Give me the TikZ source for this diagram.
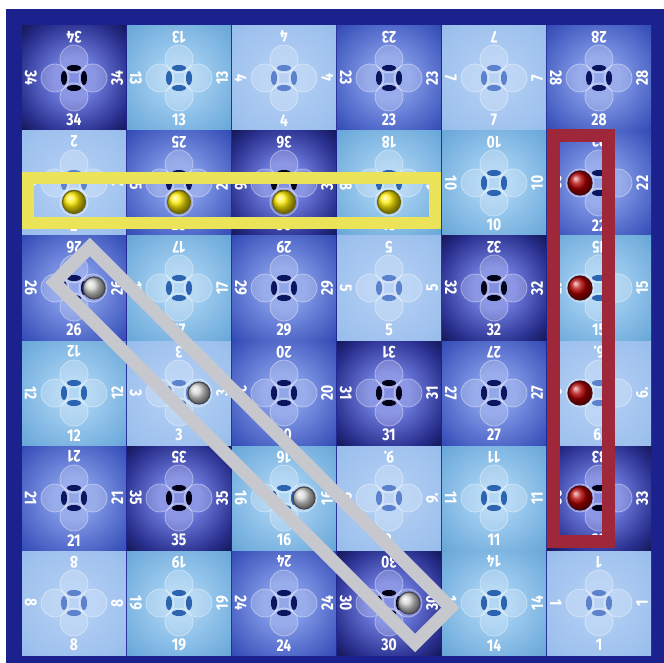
\documentclass[tikz,border=0pt]{standalone}
\usepackage{fontspec}
\newfontfamily\numfont{Fira Sans}[FakeStretch=0.82]
\usetikzlibrary{calc}
\definecolor{board}{RGB}{27,34,142}
\definecolor{dkin}{RGB}{110,124,222}
\definecolor{dkmid}{RGB}{40,46,140}
\definecolor{dkout}{RGB}{5,5,42}
\definecolor{mdin}{RGB}{128,152,230}
\definecolor{mdout}{RGB}{30,54,168}
\definecolor{cyin}{RGB}{165,208,242}
\definecolor{cyout}{RGB}{88,156,210}
\definecolor{plin}{RGB}{174,204,243}
\definecolor{plout}{RGB}{148,186,234}
\definecolor{hldark}{RGB}{2,2,25}
\definecolor{hlmid}{RGB}{12,22,95}
\definecolor{hlcyan}{RGB}{45,100,178}
\definecolor{hlpale}{RGB}{92,130,205}
\definecolor{yband}{RGB}{236,228,88}
\definecolor{rband}{RGB}{158,40,58}
\definecolor{gband}{RGB}{198,200,206}
\definecolor{yrim}{RGB}{110,100,10}
\definecolor{rrim}{RGB}{70,10,15}
\definecolor{wrim}{RGB}{70,70,80}
\pgfdeclareradialshading{glowdark}{\pgfpoint{0bp}{0bp}}{color(0bp)=(dkin); color(10bp)=(dkin); color(28bp)=(dkmid); color(42bp)=(dkout); color(50bp)=(dkout)}
\pgfdeclareradialshading{glowmid}{\pgfpoint{0bp}{0bp}}{color(0bp)=(mdin); color(10bp)=(mdin); color(42bp)=(mdout); color(50bp)=(mdout)}
\pgfdeclareradialshading{glowcyan}{\pgfpoint{0bp}{0bp}}{color(0bp)=(cyin); color(8bp)=(cyin); color(42bp)=(cyout); color(50bp)=(cyout)}
\pgfdeclareradialshading{glowpale}{\pgfpoint{0bp}{0bp}}{color(0bp)=(plin); color(10bp)=(plin); color(40bp)=(plout); color(50bp)=(plout)}
\tikzset{
  tilebox/.style={rectangle,minimum size=104pt,inner sep=0pt,shade},
  tiledark/.style={tilebox,shading=glowdark},
  tilemid/.style={tilebox,shading=glowmid},
  tilecyan/.style={tilebox,shading=glowcyan},
  tilepale/.style={tilebox,shading=glowpale},
  holedark/.style={fill=hldark},
  holemid/.style={fill=hlmid},
  holecyan/.style={fill=hlcyan},
  holepale/.style={fill=hlpale},
  petal/.style={fill=white,fill opacity=0.2,draw=white,draw opacity=0.4,line width=0.8pt},
  num/.style={text=white,inner sep=0pt,font=\numfont\bfseries\fontsize{17}{17}\selectfont},
  yball/.style={circle,minimum size=23pt,inner sep=0pt,ball color=yellow!85!orange,draw=yrim,line width=1.2pt},
  rball/.style={circle,minimum size=24pt,inner sep=0pt,ball color=red!70!black,draw=rrim,line width=1.2pt},
  wball/.style={circle,minimum size=22pt,inner sep=0pt,ball color=gray!35,draw=wrim,line width=1.2pt},
  yframe/.style={draw=yband,line width=12pt,inner sep=0pt},
  rframe/.style={draw=rband,line width=13pt,inner sep=0pt},
  gframe/.style={draw=gband,line width=13pt,inner sep=0pt},
}
% \tile{col}{row}{number}{tone}
\newcommand{\tile}[4]{%
  \node[tile#4] (t#2#1) at ({74+105*(#1-1)},{78+105*(#2-1)}) {};
  \fill[white,fill opacity=0.15,rounded corners=4pt] ($(t#2#1)+(-10,-10)$) rectangle ($(t#2#1)+(10,10)$);
  \foreach \a in {0,90,180,270}
    \draw[petal] (t#2#1) ++(\a:19pt) circle[radius=14pt];
  \fill[hole#4] ($(t#2#1)+(0,-10)$) ellipse[x radius=7pt,y radius=3pt];
  \fill[hole#4] ($(t#2#1)+(0,10)$) ellipse[x radius=7pt,y radius=3pt];
  \fill[hole#4] ($(t#2#1)+(-10,0)$) ellipse[x radius=3pt,y radius=7pt];
  \fill[hole#4] ($(t#2#1)+(10,0)$) ellipse[x radius=3pt,y radius=7pt];
  \node[num,rotate=180] (t#2#1n) at ($(t#2#1.north)+(0,11)$) {#3};
  \node[num] (t#2#1s) at ($(t#2#1.south)+(0,-10)$) {#3};
  \node[num,rotate=-90] (t#2#1w) at ($(t#2#1.west)+(9,0)$) {#3};
  \node[num,rotate=90] (t#2#1e) at ($(t#2#1.east)+(-9,0)$) {#3};
}
\begin{document}
\begin{tikzpicture}[x=1pt,y=-1pt]
\useasboundingbox (0,0) rectangle (664,663);
\fill[white] (0,0) rectangle (664,663);
\fill[board] (6,9) rectangle (664,663);
% board
\tile{1}{1}{34}{dark} \tile{2}{1}{13}{cyan} \tile{3}{1}{4}{pale}
\tile{4}{1}{23}{mid}  \tile{5}{1}{7}{pale}  \tile{6}{1}{28}{mid}
\tile{1}{2}{2}{pale}  \tile{2}{2}{25}{mid}  \tile{3}{2}{36}{dark}
\tile{4}{2}{18}{cyan} \tile{5}{2}{10}{cyan} \tile{6}{2}{22}{mid}
\tile{1}{3}{26}{mid}  \tile{2}{3}{17}{cyan} \tile{3}{3}{29}{mid}
\tile{4}{3}{5}{pale}  \tile{5}{3}{32}{dark} \tile{6}{3}{15}{cyan}
\tile{1}{4}{12}{cyan} \tile{2}{4}{3}{pale}  \tile{3}{4}{20}{mid}
\tile{4}{4}{31}{dark} \tile{5}{4}{27}{mid}  \tile{6}{4}{6.}{pale}
\tile{1}{5}{21}{mid}  \tile{2}{5}{35}{dark} \tile{3}{5}{16}{cyan}
\tile{4}{5}{9.}{pale} \tile{5}{5}{11}{cyan} \tile{6}{5}{33}{dark}
\tile{1}{6}{8}{pale}  \tile{2}{6}{19}{cyan} \tile{3}{6}{24}{mid}
\tile{4}{6}{30}{dark} \tile{5}{6}{14}{cyan} \tile{6}{6}{1}{pale}
% frames
\node[yframe,minimum width=407pt,minimum height=45pt] (ybox) at (231.5,200.5) {};
\node[rframe,minimum width=55pt,minimum height=406pt] (rbox) at (581,338.5) {};
\node[gframe,minimum width=510pt,minimum height=50pt,rotate=-45] (gbox) at (252.5,445) {};
% balls
\node[yball] (y1) at ($(t21)+(0,19)$) {};
\node[yball] (y2) at ($(t22)+(0,19)$) {};
\node[yball] (y3) at ($(t23)+(0,19)$) {};
\node[yball] (y4) at ($(t24)+(0,19)$) {};
\node[rball] (r1) at ($(t26)+(-19,0)$) {};
\node[rball] (r2) at ($(t36)+(-19,0)$) {};
\node[rball] (r3) at ($(t46)+(-19,0)$) {};
\node[rball] (r4) at ($(t56)+(-19,0)$) {};
\node[wball] (w1) at ($(t31)+(20,0)$) {};
\node[wball] (w2) at ($(t42)+(20,0)$) {};
\node[wball] (w3) at ($(t53)+(20,0)$) {};
\node[wball] (w4) at ($(t64)+(20,0)$) {};
\end{tikzpicture}
\end{document}
